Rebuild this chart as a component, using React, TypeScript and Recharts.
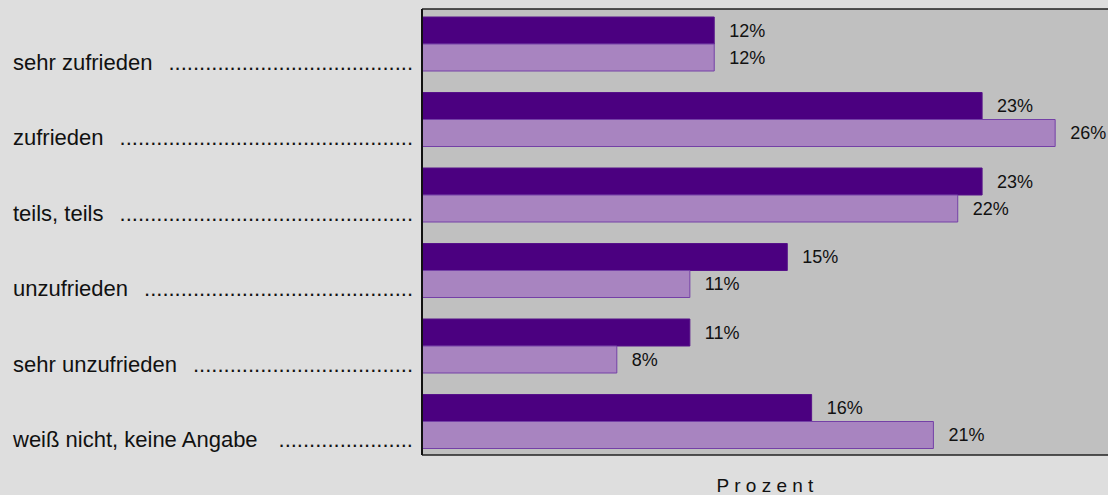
import { Bar, BarChart, CartesianGrid, LabelList, XAxis, YAxis } from 'recharts'

const categories = [
  'sehr zufrieden',
  'zufrieden',
  'teils, teils',
  'unzufrieden',
  'sehr unzufrieden',
  'weiß nicht, keine Angabe',
]
const seriesA = [12, 23, 23, 15, 11, 16]
const seriesB = [12, 26, 22, 11, 8, 21]

const data = categories.map((name, i) => ({ name, a: seriesA[i], b: seriesB[i] }))

const FONT = "'Liberation Sans', Arial, sans-serif"
const LABEL_SIZE = 22
const DOTS_END = 413
const LABEL_X = 13

let ctx: CanvasRenderingContext2D | null = null
function measure(text: string) {
  if (!ctx) ctx = document.createElement('canvas').getContext('2d')
  if (!ctx) return text.length * LABEL_SIZE * 0.5
  ctx.font = `${LABEL_SIZE}px ${FONT}`
  return ctx.measureText(text).width
}

function CategoryTick(props: any) {
  const { y, payload } = props
  const start = LABEL_X + measure(payload.value) + 15
  const n = Math.max(0, Math.floor((DOTS_END - start) / measure('.')))
  return (
    <g fontSize={LABEL_SIZE} fontFamily={FONT} fill='#111'>
      <text x={LABEL_X} y={y + 26}>{payload.value}</text>
      <text x={DOTS_END} y={y + 26} textAnchor='end'>{'.'.repeat(n)}</text>
    </g>
  )
}

const pct = (v: any) => `${v}%`

export default function App() {
  return (
    <div style={{ width: 1108, height: 495, background: '#dedede' }}>
      <style>{'body{margin:0}'}</style>
      <BarChart
        width={1108}
        height={495}
        data={data}
        layout='vertical'
        margin={{ top: 8, right: 0, bottom: 0, left: 0 }}
        barCategoryGap={11}
        barGap={0}
      >
        <CartesianGrid fill='#c0c0c0' horizontal={false} vertical={false} />
        <XAxis
          type='number'
          domain={[0, 28.17]}
          height={40}
          tick={false}
          tickLine={false}
          axisLine={{ stroke: '#222', strokeWidth: 1.5 }}
          label={{
            value: 'P r o z e n t',
            position: 'insideBottom',
            offset: 3,
            fontSize: 19,
            fontFamily: FONT,
            fill: '#111',
          }}
        />
        <XAxis
          xAxisId='top'
          type='number'
          orientation='top'
          domain={[0, 28.17]}
          height={1}
          tick={false}
          tickLine={false}
          axisLine={{ stroke: '#222', strokeWidth: 1.5 }}
        />
        <YAxis
          type='category'
          dataKey='name'
          width={422}
          padding={{ top: -3, bottom: -4 }}
          tickLine={false}
          axisLine={{ stroke: '#111', strokeWidth: 2 }}
          tick={<CategoryTick />}
          interval={0}
        />
        <Bar dataKey='a' fill='#4b0080' stroke='#561289' strokeWidth={1} isAnimationActive={false}>
          <LabelList dataKey='a' position='right' offset={15} formatter={pct} fontSize={18} fontFamily={FONT} fill='#111' />
        </Bar>
        <Bar dataKey='b' fill='#a884c0' stroke='#7440a6' strokeWidth={1} isAnimationActive={false}>
          <LabelList dataKey='b' position='right' offset={15} formatter={pct} fontSize={18} fontFamily={FONT} fill='#111' />
        </Bar>
      </BarChart>
    </div>
  )
}
